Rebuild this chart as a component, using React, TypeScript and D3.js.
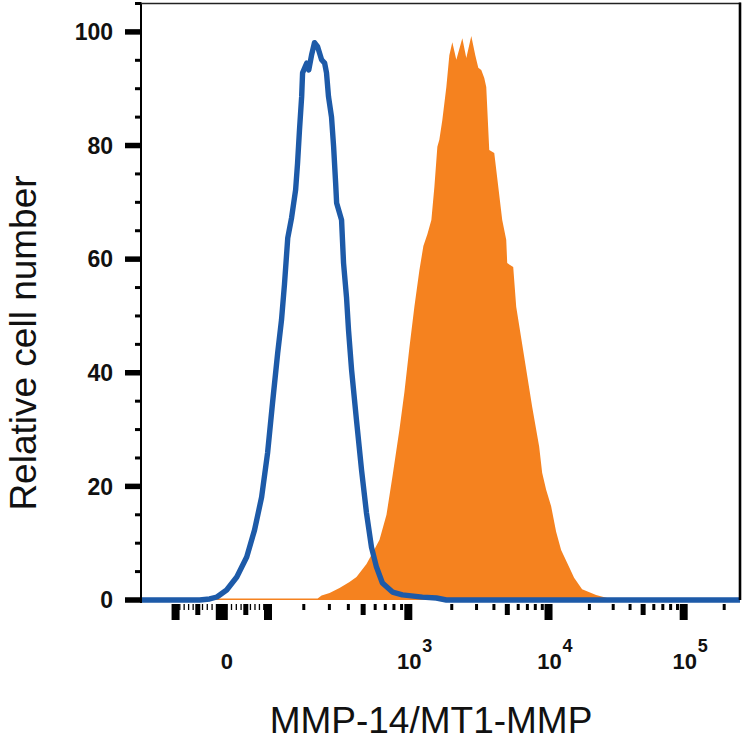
import React from "react";
import * as d3 from "d3";

// Isotype control (blue outline): fluorescence intensity -> relative cell number
const BLUE_X = [
  -196, -46, -25, -10, 10, 31, 52, 69, 85, 99, 111, 124, 134, 142, 151, 162, 174,
  180, 186, 193, 196, 210, 217, 227, 238, 250, 266, 279, 287, 296, 310, 320, 330,
  335, 361, 372, 389, 401, 420, 452, 488, 526, 567, 612, 670, 782, 912, 1248, 1560,
  1832, 262144,
];
const BLUE_Y = [
  0, 0, 0.18, 0.53, 1.76, 4.05, 7.57, 12.3, 18.1, 25.9, 34.7, 43.5, 49.3, 55.6, 63.7,
  67.3, 72.2, 76.9, 82.7, 88.6, 92.8, 94.5, 93.3, 95.9, 98.1, 97.4, 95.1, 94.5, 92.8,
  88.6, 85.0, 79.8, 73.4, 69.9, 66.9, 59.3, 53.3, 47.5, 40.5, 31.7, 22.9, 15.3, 9.3,
  5.8, 3.0, 1.4, 0.9, 0.5, 0.35, 0, 0,
];

// MMP-14 stained cells (orange fill)
const ORANGE_X = [
  -196, -18, -12, 250, 266, 301, 350, 407, 452, 526, 576, 641, 713, 782, 871, 941,
  1017, 1100, 1191, 1268, 1351, 1440, 1511, 1585, 1636, 1717, 1832, 1923, 2018, 2154,
  2375, 2535, 2751, 2938, 3087, 3243, 3408, 3522, 3701, 4022, 4593, 4910, 4992, 5519,
  5802, 6634, 7587, 8536, 8979, 9605, 10451, 11371, 12374, 14171, 15423, 17667, 22407,
  28427, 33116, 262144,
];
const ORANGE_Y = [
  0, 0, 0.26, 0.26, 0.79, 1.23, 2.11, 3.17, 4.05, 6.34, 8.27, 10.6, 15.0, 21.8, 30.0,
  36.6, 44.4, 51.6, 58.1, 62.3, 64.4, 66.9, 72.7, 79.8, 81.0, 84.5, 90.3, 95.9, 98.2,
  95.1, 98.9, 95.4, 99.3, 95.9, 93.7, 93.3, 91.9, 90.3, 79.2, 78.7, 66.9, 63.4, 59.3,
  58.6, 51.6, 42.8, 34.0, 27.0, 22.4, 19.4, 16.5, 12.0, 8.8, 5.8, 3.9, 1.9, 0.9, 0.2,
  0, 0,
];

const Y_LABELS = [0, 20, 40, 60, 80, 100];
const X_LABEL_VALUES = [0, 1e3, 1e4, 1e5];
const X_LABEL_EXPONENTS = ["", "3", "4", "5"];
const X_MAJOR_TICKS = [-100, 0, 100, 1e3, 1e4, 1e5];

const X_MIN = -196;
const X_MAX = 262144;
const Y_MAX = 105;

// logicle-like display transform (biexponential)
const L_C = 36.6;
const L_P = 2.28;
const logicleInv = (u: number) => {
  const a = Math.abs(u);
  const v = L_C * (Math.exp(a) - L_P * L_P * Math.exp(-a / L_P) + L_P * L_P - 1);
  return u < 0 ? -v : v;
};
const logicle = (v: number) => {
  let lo = -20;
  let hi = 20;
  for (let i = 0; i < 60; i++) {
    const mid = (lo + hi) / 2;
    if (logicleInv(mid) < v) lo = mid;
    else hi = mid;
  }
  return (lo + hi) / 2;
};

const FONT = "'Liberation Sans', Arial, sans-serif";

const App: React.FC = () => {
  const left = 141;
  const right = 740;
  const top = 3.5;
  const bottom = 600;

  const xs = d3
    .scaleLinear()
    .domain([logicle(X_MIN), logicle(X_MAX)])
    .range([left, right]);
  const x = (v: number) => xs(logicle(v));
  const y = d3.scaleLinear().domain([0, Y_MAX]).range([bottom, top]);

  const blue = BLUE_X.map((v, i) => [v, BLUE_Y[i]] as [number, number]);
  const orange = ORANGE_X.map((v, i) => [v, ORANGE_Y[i]] as [number, number]);

  const blueLine = d3
    .line<[number, number]>()
    .x((d) => x(d[0]))
    .y((d) => y(d[1]));
  const orangeArea = d3
    .area<[number, number]>()
    .x((d) => x(d[0]))
    .y0(y(0))
    .y1((d) => y(d[1]));

  // x ticks
  const linearMinor = d3.range(-90, 100, 10).filter((v) => v !== 0 && Math.abs(v) !== 50);
  const linearMid = [-50, 50];
  const logMinor: number[] = [];
  const logMid: number[] = [];
  [100, 1000, 10000, 100000].forEach((dec) => {
    d3.range(2, 10).forEach((m) => {
      const v = m * dec;
      if (v > X_MAX) return;
      if (m === 5) logMid.push(v);
      else logMinor.push(v);
    });
  });

  const tickTop = 604;
  const yTicks = d3.range(0, Y_MAX + 1, 5);

  return (
    <svg
      width={743}
      height={743}
      style={{ position: "absolute", left: 0, top: 0, background: "#fff" }}
    >
      <path d={orangeArea(orange) ?? ""} fill="#f5821f" />
      <path
        d={blueLine(blue) ?? ""}
        fill="none"
        stroke="#1d5aa8"
        strokeWidth={5.4}
        strokeLinejoin="round"
      />

      {/* frame */}
      <line x1={left} x2={left} y1={2.5} y2={bottom + 3} stroke="#000" strokeWidth={2} />
      <line x1={left} x2={right + 1} y1={top} y2={top} stroke="#222" strokeWidth={1.6} />
      <line x1={right} x2={right} y1={2.5} y2={bottom} stroke="#000" strokeWidth={2.6} />

      {/* y ticks */}
      {yTicks.map((v) => {
        const major = v % 20 === 0;
        return (
          <line
            key={"yt" + v}
            x1={major ? 125 : 135}
            x2={left}
            y1={y(v)}
            y2={y(v)}
            stroke="#000"
            strokeWidth={major ? 5.5 : 3}
          />
        );
      })}
      {Y_LABELS.map((v) => (
        <text
          key={"yl" + v}
          x={113}
          y={y(v)}
          dy="0.36em"
          textAnchor="end"
          fontFamily={FONT}
          fontWeight="bold"
          fontSize={23}
          fill="#111"
        >
          {v}
        </text>
      ))}

      {/* x ticks */}
      {linearMinor.map((v) => (
        <line key={"lm" + v} x1={x(v)} x2={x(v)} y1={tickTop} y2={610} stroke="#000" strokeWidth={1.3} />
      ))}
      {linearMid.map((v) => (
        <line key={"ld" + v} x1={x(v)} x2={x(v)} y1={tickTop} y2={615} stroke="#000" strokeWidth={5} />
      ))}
      {logMinor.map((v) => (
        <line key={"gm" + v} x1={x(v)} x2={x(v)} y1={tickTop} y2={610} stroke="#000" strokeWidth={3} />
      ))}
      {logMid.map((v) => (
        <line key={"gd" + v} x1={x(v)} x2={x(v)} y1={tickTop} y2={615} stroke="#000" strokeWidth={5} />
      ))}
      {X_MAJOR_TICKS.map((v) => (
        <line
          key={"mj" + v}
          x1={x(v)}
          x2={x(v)}
          y1={tickTop}
          y2={620}
          stroke="#000"
          strokeWidth={v === 0 ? 12 : 8}
        />
      ))}

      {/* x labels */}
      {X_LABEL_VALUES.map((v, i) =>
        X_LABEL_EXPONENTS[i] === "" ? (
          <text
            key={"xl" + v}
            x={x(v) + 5}
            y={669}
            textAnchor="middle"
            fontFamily={FONT}
            fontWeight="bold"
            fontSize={22}
            fill="#111"
          >
            {v}
          </text>
        ) : (
          <g key={"xl" + v}>
            <text
              x={x(v) + 1}
              y={669}
              textAnchor="middle"
              fontFamily={FONT}
              fontWeight="bold"
              fontSize={22}
              fill="#111"
            >
              10
            </text>
            <text
              x={x(v) + 14}
              y={652}
              textAnchor="start"
              fontFamily={FONT}
              fontWeight="bold"
              fontSize={18}
              fill="#111"
            >
              {X_LABEL_EXPONENTS[i]}
            </text>
          </g>
        )
      )}

      {/* axis titles */}
      <text
        x={431}
        y={733}
        textAnchor="middle"
        fontFamily={FONT}
        fontSize={37}
        fill="#111"
      >
        MMP-14/MT1-MMP
      </text>
      <text
        transform="translate(36,343) rotate(-90)"
        textAnchor="middle"
        fontFamily={FONT}
        fontSize={37}
        fill="#111"
      >
        Relative cell number
      </text>
    </svg>
  );
};

export default App;
